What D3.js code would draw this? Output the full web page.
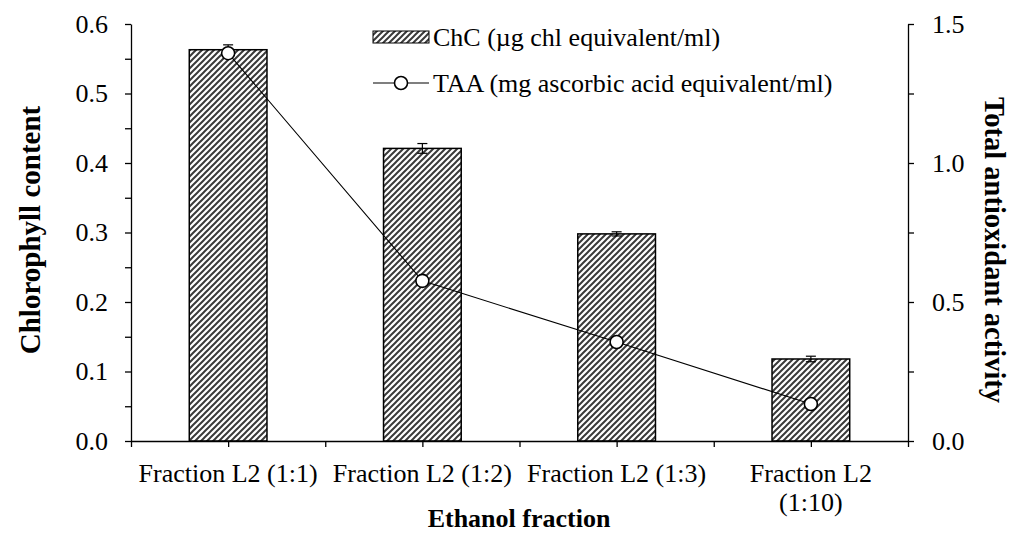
<!DOCTYPE html>
<html>
<head>
<meta charset="utf-8">
<script src="https://cdn.jsdelivr.net/npm/d3@7"></script>
<style>
  html, body { margin: 0; padding: 0; background: #fff; }
  svg { display: block; }
  svg text { font-family: "Times New Roman", "Liberation Serif", serif; fill: #000; }
</style>
</head>
<body>
<svg id="chart" width="1014" height="535"></svg>
<script>
const categories = ["Fraction L2 (1:1)", "Fraction L2 (1:2)", "Fraction L2 (1:3)", "Fraction L2 (1:10)"];
const categoryLabelLines = [["Fraction L2 (1:1)"], ["Fraction L2 (1:2)"], ["Fraction L2 (1:3)"], ["Fraction L2", "(1:10)"]];
const chcValues = [0.563, 0.421, 0.298, 0.118];
const chcErrors = [0.007, 0.007, 0.003, 0.004];
const taaValues = [1.395, 0.576, 0.356, 0.133];
const leftTicks = [0, 0.1, 0.2, 0.3, 0.4, 0.5, 0.6];
const leftMinorTicks = [0.05, 0.15, 0.25, 0.35, 0.45, 0.55];
const rightTicks = [0, 0.5, 1.0, 1.5];
const rightMinorTicks = [0.25, 0.75, 1.25];
const legendLabels = ["ChC (\u00b5g chl equivalent/ml)", "TAA (mg ascorbic acid equivalent/ml)"];
const xTitle = "Ethanol fraction";
const yLeftTitle = "Chlorophyll content";
const yRightTitle = "Total antioxidant activity";

const FONT = "'Times New Roman', 'Liberation Serif', serif";
const svg = d3.select("#chart").attr("font-family", FONT);
const L = 131, R = 908, T = 24, B = 441;
const FS = 26;

const x = d3.scaleBand().domain(categories).range([L, R]).paddingInner(0.6).paddingOuter(0.3);
const yL = d3.scaleLinear().domain([0, 0.6]).range([B, T]);
const yR = d3.scaleLinear().domain([0, 1.5]).range([B, T]);
const xHalf = d3.scaleLinear().domain([0, categories.length * 2]).range([L, R]);

// hatch pattern
const defs = svg.append("defs");
const pat = defs.append("pattern").attr("id", "hatch").attr("patternUnits", "userSpaceOnUse")
  .attr("width", 6).attr("height", 6);
pat.append("rect").attr("width", 6).attr("height", 6).attr("fill", "#fff");
pat.append("path").attr("d", "M-1,1 L1,-1 M0,6 L6,0 M5,7 L7,5")
  .attr("stroke", "#3a3a3a").attr("stroke-width", 2);

// bars
svg.append("g").selectAll("rect").data(chcValues).join("rect")
  .attr("x", (d, i) => x(categories[i]))
  .attr("y", d => yL(d))
  .attr("width", x.bandwidth())
  .attr("height", d => B - yL(d))
  .attr("fill", "url(#hatch)")
  .attr("stroke", "#000").attr("stroke-width", 1.5);

// error bars
const eb = svg.append("g").attr("stroke", "#000").attr("stroke-width", 1.2);
chcValues.forEach((v, i) => {
  const cx = x(categories[i]) + x.bandwidth() / 2;
  const e = chcErrors[i];
  eb.append("line").attr("x1", cx).attr("x2", cx).attr("y1", yL(v + e)).attr("y2", yL(v - e));
  eb.append("line").attr("x1", cx - 5).attr("x2", cx + 5).attr("y1", yL(v + e)).attr("y2", yL(v + e));
  eb.append("line").attr("x1", cx - 5).attr("x2", cx + 5).attr("y1", yL(v - e)).attr("y2", yL(v - e));
});

// axes
function styleAxis(g) {
  g.attr("font-family", FONT).attr("font-size", FS);
  g.selectAll("path.domain").attr("stroke", "#000").attr("stroke-width", 1.3);
  g.selectAll(".tick line").attr("stroke", "#000").attr("stroke-width", 1.3);
  g.selectAll(".tick text").attr("fill", "#000").attr("font-size", FS).attr("font-family", FONT);
}
const gxl = svg.append("g").attr("transform", `translate(${L},0)`)
  .call(d3.axisLeft(yL).tickValues(leftTicks).tickFormat(d3.format(".1f")).tickSize(6).tickSizeOuter(0).tickPadding(17));
styleAxis(gxl);
const gxlm = svg.append("g").attr("transform", `translate(${L},0)`)
  .call(d3.axisLeft(yL).tickValues(leftMinorTicks).tickFormat("").tickSize(6).tickSizeOuter(0));
styleAxis(gxlm);
gxlm.select("path.domain").remove();

const gyr = svg.append("g").attr("transform", `translate(${R},0)`)
  .call(d3.axisRight(yR).tickValues(rightTicks).tickFormat(d3.format(".1f")).tickSize(6).tickSizeOuter(0).tickPadding(18));
styleAxis(gyr);
const gyrm = svg.append("g").attr("transform", `translate(${R},0)`)
  .call(d3.axisRight(yR).tickValues(rightMinorTicks).tickFormat("").tickSize(6).tickSizeOuter(0));
styleAxis(gyrm);
gyrm.select("path.domain").remove();

const gx = svg.append("g").attr("transform", `translate(0,${B})`)
  .call(d3.axisBottom(xHalf).tickValues(d3.range(0, categories.length * 2 + 1)).tickFormat("").tickSize(6).tickSizeOuter(0));
styleAxis(gx);

// category labels
const lbl = svg.append("g").attr("font-size", FS).attr("text-anchor", "middle");
categoryLabelLines.forEach((lines, i) => {
  const cx = x(categories[i]) + x.bandwidth() / 2;
  const t = lbl.append("text").attr("x", cx).attr("y", 482);
  lines.forEach((s, j) => t.append("tspan").attr("x", cx).attr("dy", j === 0 ? 0 : 29).text(s));
});

// TAA line
const px = (d, i) => x(categories[i]) + x.bandwidth() / 2;
svg.append("path").datum(taaValues)
  .attr("d", d3.line().x(px).y(d => yR(d)))
  .attr("fill", "none").attr("stroke", "#000").attr("stroke-width", 1.1);
svg.append("g").selectAll("circle").data(taaValues).join("circle")
  .attr("cx", px).attr("cy", d => yR(d)).attr("r", 6.5)
  .attr("fill", "#fff").attr("stroke", "#000").attr("stroke-width", 1.6);

// titles
svg.append("text").attr("transform", `translate(40,230) rotate(-90)`)
  .attr("text-anchor", "middle").attr("font-weight", "bold").attr("font-size", 29).text(yLeftTitle);
svg.append("text").attr("transform", `translate(985,250) rotate(90)`)
  .attr("text-anchor", "middle").attr("font-weight", "bold").attr("font-size", 28.5).text(yRightTitle);
svg.append("text").attr("x", 519).attr("y", 527)
  .attr("text-anchor", "middle").attr("font-weight", "bold").attr("font-size", FS).text(xTitle);

// legend
const lg = svg.append("g").attr("font-size", FS);
const lx = 373, row1 = 37, row2 = 83;
lg.append("rect").attr("x", lx).attr("y", row1 - 6).attr("width", 56).attr("height", 12)
  .attr("fill", "url(#hatch)").attr("stroke", "#000").attr("stroke-width", 1);
lg.append("text").attr("x", lx + 60).attr("y", row1).attr("dy", "0.35em").text(legendLabels[0]);
lg.append("line").attr("x1", lx).attr("x2", lx + 56).attr("y1", row2).attr("y2", row2).attr("stroke", "#000").attr("stroke-width", 1.1);
lg.append("circle").attr("cx", lx + 28).attr("cy", row2).attr("r", 6.5).attr("fill", "#fff").attr("stroke", "#000").attr("stroke-width", 1.6);
lg.append("text").attr("x", lx + 60).attr("y", row2).attr("dy", "0.35em").text(legendLabels[1]);
</script>
</body>
</html>
